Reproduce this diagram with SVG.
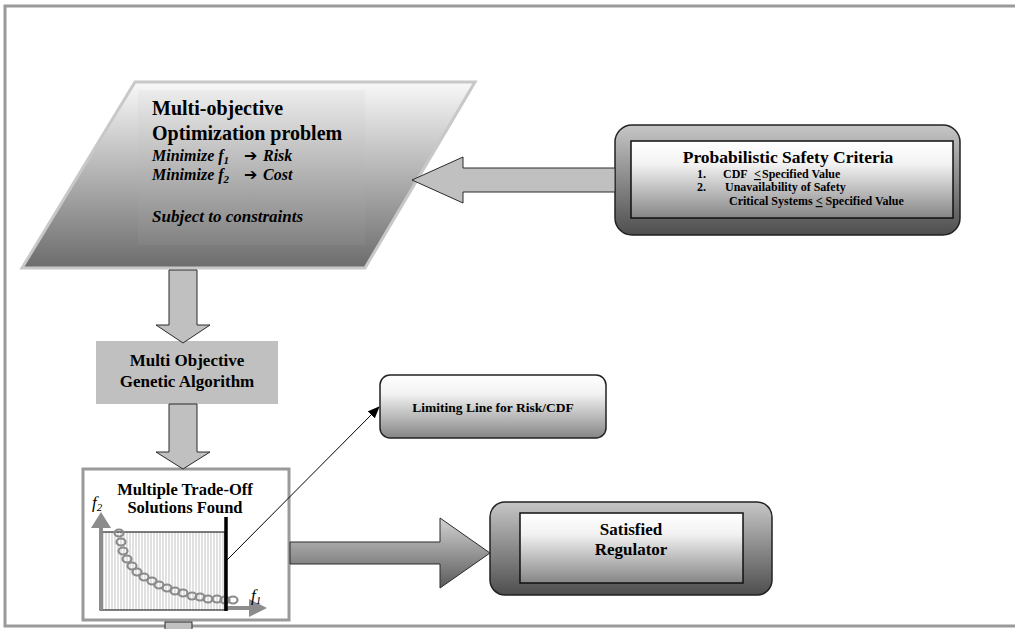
<svg xmlns="http://www.w3.org/2000/svg" width="1015" height="629" viewBox="0 0 1015 629">
<defs>
<linearGradient id="gPara" x1="0" y1="0" x2="0" y2="1"><stop offset="0" stop-color="#f8f8f8"/><stop offset="1" stop-color="#6c6c6c"/></linearGradient>
<linearGradient id="gParaIn" x1="0" y1="0" x2="0" y2="1"><stop offset="0" stop-color="#ececec"/><stop offset="1" stop-color="#828282"/></linearGradient>
<linearGradient id="gDark" x1="0" y1="0" x2="0" y2="1"><stop offset="0" stop-color="#c6c6c6"/><stop offset="1" stop-color="#4e4e4e"/></linearGradient>
<linearGradient id="gLight" x1="0" y1="0" x2="0" y2="1"><stop offset="0" stop-color="#ffffff"/><stop offset="0.3" stop-color="#f2f2f2"/><stop offset="1" stop-color="#858585"/></linearGradient>
<linearGradient id="gArrow" x1="0" y1="0" x2="0" y2="1"><stop offset="0" stop-color="#d2d2d2"/><stop offset="1" stop-color="#5a5a5a"/></linearGradient>
<pattern id="hatch" width="3" height="10" patternUnits="userSpaceOnUse"><rect width="3" height="10" fill="#ffffff"/><line x1="1" y1="0" x2="1" y2="10" stroke="#c4c4c4" stroke-width="1"/></pattern>
<marker id="ah" markerWidth="12" markerHeight="10" refX="11" refY="5" orient="auto" markerUnits="userSpaceOnUse"><path d="M0,0 L12,5 L0,10 Z" fill="#000"/></marker>
<style>
.b{font-family:"Liberation Serif","Times New Roman",serif;font-weight:bold;fill:#000}
.bi{font-family:"Liberation Serif","Times New Roman",serif;font-weight:bold;font-style:italic;fill:#000}
.it{font-family:"Liberation Serif","Times New Roman",serif;font-style:italic;fill:#000}
.blk{fill:#c0c0c0;stroke:#2a2a2a;stroke-width:1}
.ring{fill:none;stroke:#8a8a8a;stroke-width:2.2}
.ax{fill:#8c8c8c}
</style>
</defs>
<rect x="0" y="0" width="1015" height="629" fill="#ffffff"/>
<rect x="5" y="6" width="1030" height="620" fill="none" stroke="#9a9a9a" stroke-width="3"/>

<g id="node-problem">
<path d="M135,82 L475,82 L365,268 L22,268 Z" fill="url(#gPara)" stroke="#c8c8c8" stroke-width="3"/>
<rect x="138" y="90" width="227" height="155" fill="url(#gParaIn)"/>
<text class="b" x="152" y="115" font-size="20">Multi-objective</text>
<text class="b" x="152" y="140" font-size="20">Optimization problem</text>
<text class="bi" x="152" y="161" font-size="16">Minimize f<tspan font-size="11" dy="3">1</tspan><tspan x="244" dy="-3" font-family="DejaVu Sans,sans-serif" font-style="normal" font-size="16">➔</tspan><tspan x="263">Risk</tspan></text>
<text class="bi" x="152" y="180" font-size="16">Minimize f<tspan font-size="11" dy="3">2</tspan><tspan x="244" dy="-3" font-family="DejaVu Sans,sans-serif" font-style="normal" font-size="16">➔</tspan><tspan x="263">Cost</tspan></text>
<text class="bi" x="152" y="222" font-size="17">Subject to constraints</text>
</g>

<g id="node-criteria">
<rect x="615" y="125" width="345" height="110" rx="17" fill="url(#gDark)" stroke="#222" stroke-width="1.5"/>
<rect x="631" y="141" width="322" height="77" fill="url(#gLight)" stroke="#111" stroke-width="1.5"/>
<text class="b" x="788" y="163" font-size="17.5" text-anchor="middle">Probabilistic Safety Criteria</text>
<text class="b" y="178" font-size="12"><tspan x="697">1.</tspan><tspan x="723">CDF</tspan><tspan x="754" text-decoration="underline">&lt;</tspan><tspan x="762">Specified Value</tspan></text>
<text class="b" y="191" font-size="12"><tspan x="697">2.</tspan><tspan x="725">Unavailability of Safety</tspan></text>
<text class="b" x="729" y="205" font-size="12">Critical Systems <tspan text-decoration="underline">&lt;</tspan> Specified Value</text>
</g>

<g id="node-moga">
<rect x="96" y="341" width="182" height="63" fill="#c0c0c0"/>
<text class="b" x="187" y="366" font-size="17" text-anchor="middle">Multi Objective</text>
<text class="b" x="187" y="387" font-size="17" text-anchor="middle">Genetic Algorithm</text>
</g>

<g id="node-limit">
<rect x="380" y="375" width="226" height="63" rx="10" fill="url(#gLight)" stroke="#222" stroke-width="1.5"/>
<text class="b" x="493" y="412" font-size="13.5" text-anchor="middle">Limiting Line for Risk/CDF</text>
</g>

<g id="node-tradeoff">
<rect x="83" y="469" width="206" height="151" fill="#ffffff" stroke="#9a9a9a" stroke-width="3"/>
<text class="b" x="185" y="495" font-size="16.5" text-anchor="middle">Multiple Trade-Off</text>
<text class="b" x="185" y="513" font-size="16.5" text-anchor="middle">Solutions Found</text>
<rect x="100" y="532" width="125" height="78" fill="url(#hatch)" stroke="#000" stroke-width="1"/>
<rect x="99" y="527" width="4" height="83" class="ax"/>
<path d="M91,528 L111,528 L101,512 Z" class="ax"/>
<rect x="225" y="606" width="26" height="4" class="ax"/>
<path d="M249,599 L249,617 L267,608 Z" class="ax"/>
<text class="it" x="92" y="508" font-size="17">f<tspan font-size="11" dy="3">2</tspan></text>
<text class="it" x="251" y="601" font-size="17">f<tspan font-size="11" dy="3">1</tspan></text>
<g>
<ellipse class="ring" cx="119" cy="533" rx="4.5" ry="3.5"/>
<ellipse class="ring" cx="121" cy="542" rx="4.5" ry="3.5"/>
<ellipse class="ring" cx="123" cy="551" rx="4.5" ry="3.5"/>
<ellipse class="ring" cx="127" cy="559" rx="4.5" ry="3.5"/>
<ellipse class="ring" cx="132" cy="566" rx="4.5" ry="3.5"/>
<ellipse class="ring" cx="137" cy="572" rx="4.5" ry="3.5"/>
<ellipse class="ring" cx="144" cy="577" rx="4.5" ry="3.5"/>
<ellipse class="ring" cx="152" cy="581" rx="4.5" ry="3.5"/>
<ellipse class="ring" cx="159" cy="585" rx="4.5" ry="3.5"/>
<ellipse class="ring" cx="167" cy="588" rx="4.5" ry="3.5"/>
<ellipse class="ring" cx="175" cy="591" rx="4.5" ry="3.5"/>
<ellipse class="ring" cx="183" cy="593" rx="4.5" ry="3.5"/>
<ellipse class="ring" cx="192" cy="596" rx="4.5" ry="3.5"/>
<ellipse class="ring" cx="200" cy="597" rx="4.5" ry="3.5"/>
<ellipse class="ring" cx="208" cy="599" rx="4.5" ry="3.5"/>
<ellipse class="ring" cx="217" cy="599" rx="4.5" ry="3.5"/>
<ellipse class="ring" cx="225" cy="600" rx="4.5" ry="3.5"/>
<ellipse class="ring" cx="233" cy="600" rx="4.5" ry="3.5"/>
</g>
<line x1="226" y1="517" x2="226" y2="611" stroke="#000" stroke-width="3.5"/>
</g>

<g id="node-regulator">
<rect x="490" y="502" width="282" height="93" rx="15" fill="url(#gDark)" stroke="#222" stroke-width="1.5"/>
<rect x="520" y="513" width="223" height="70" fill="url(#gLight)" stroke="#111" stroke-width="1.5"/>
<text class="b" x="631" y="535" font-size="17" text-anchor="middle">Satisfied</text>
<text class="b" x="631" y="555" font-size="17" text-anchor="middle">Regulator</text>
</g>

<g id="connectors">
<path class="blk" d="M412,180 L463,157 L463,168 L615,168 L615,192 L463,192 L463,203 Z"/>
<path class="blk" d="M169,270 L197,270 L197,325 L210,325 L183,343 L156,325 L169,325 Z"/>
<path class="blk" d="M169,404 L197,404 L197,452 L210,452 L183,469 L156,452 L169,452 Z"/>
<path d="M290,542 L440,542 L440,518 L490,553 L440,588 L440,564 L290,564 Z" fill="url(#gArrow)" stroke="#2a2a2a" stroke-width="1"/>
<line x1="227" y1="560" x2="379" y2="407" stroke="#000" stroke-width="1" marker-end="url(#ah)"/>
<rect class="blk" x="165" y="622" width="27" height="9"/>
</g>
</svg>
